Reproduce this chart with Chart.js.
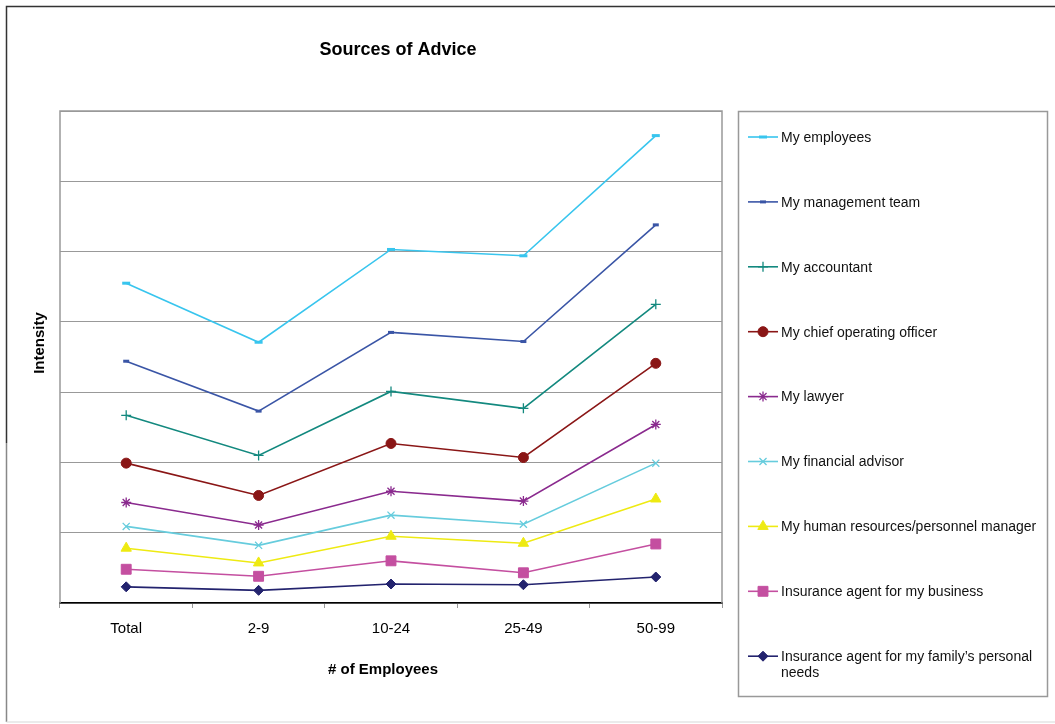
<!DOCTYPE html>
<html>
<head>
<meta charset="utf-8">
<title>Sources of Advice</title>
<script src="https://cdn.jsdelivr.net/npm/chart.js@4.4.1/dist/chart.umd.min.js"></script>
<style>
  html, body { margin: 0; padding: 0; background: #fff; }
  #wrap { width: 1055px; height: 724px; }
</style>
</head>
<body>
<div id="wrap"><canvas id="adviceChart" width="1055" height="724"></canvas></div>
<script>
const categories = ['Total', '2-9', '10-24', '25-49', '50-99'];

const seriesNames = [
    'My employees',
    'My management team',
    'My accountant',
    'My chief operating officer',
    'My lawyer',
    'My financial advisor',
    'My human resources/personnel manager',
    'Insurance agent for my business',
    'Insurance agent for my family\u2019s personal needs'
];

const myEmployees = [4.55, 3.71, 5.03, 4.94, 6.65];
const myManagementTeam = [3.44, 2.73, 3.85, 3.72, 5.38];
const myAccountant = [2.67, 2.10, 3.01, 2.77, 4.25];
const myCoo = [1.99, 1.53, 2.27, 2.07, 3.41];
const myLawyer = [1.43, 1.11, 1.59, 1.45, 2.54];
const myFinancialAdvisor = [1.09, 0.82, 1.25, 1.12, 1.99];
const myHrManager = [0.78, 0.57, 0.95, 0.85, 1.48];
const insuranceBusiness = [0.48, 0.38, 0.60, 0.43, 0.84];
const insuranceFamily = [0.23, 0.18, 0.27, 0.26, 0.37];

const seriesValues = [
    myEmployees, myManagementTeam, myAccountant, myCoo, myLawyer,
    myFinancialAdvisor, myHrManager, insuranceBusiness, insuranceFamily
];

// line colour, marker shape and marker size per series
const looks = [
    { color: '#38C5EE', style: 'line', radius: 4, bw: 3 },
    { color: '#3A55A6', style: 'line', radius: 3, bw: 3 },
    { color: '#13897F', style: 'cross', radius: 5, bw: 1.3 },
    { color: '#8A1616', style: 'circle', radius: 5, bw: 1 },
    { color: '#8A2A8E', style: 'star', radius: 5, bw: 1.3 },
    { color: '#66CCDD', style: 'crossRot', radius: 5, bw: 1.3 },
    { color: '#EEEA12', style: 'triangle', radius: 6, bw: 1 },
    { color: '#C44FA0', style: 'rect', radius: 7, bw: 1 },
    { color: '#23236E', style: 'rectRot', radius: 5, bw: 1 }
];

const FONT = 'Liberation Sans, Arial, sans-serif';

const datasets = seriesNames.map((name, i) => ({
    label: name,
    data: seriesValues[i],
    borderColor: looks[i].color,
    backgroundColor: looks[i].color,
    borderWidth: 1.6,
    pointStyle: looks[i].style,
    pointRadius: looks[i].radius,
    pointBorderWidth: looks[i].bw,
    pointBackgroundColor: looks[i].color,
    pointBorderColor: looks[i].color,
    tension: 0
}));

// frame, titles and the boxed legend
const decorations = {
    id: 'decorations',
    beforeDatasetsDraw(chart) {
        const ctx = chart.ctx;
        const a = chart.chartArea;
        ctx.save();
        ctx.strokeStyle = '#999';
        ctx.lineWidth = 1.5;
        ctx.beginPath();
        ctx.moveTo(a.left, a.bottom);
        ctx.lineTo(a.left, a.top);
        ctx.lineTo(a.right, a.top);
        ctx.lineTo(a.right, a.bottom);
        ctx.stroke();
        ctx.restore();
    },
    afterDraw(chart) {
        const ctx = chart.ctx;
        ctx.save();

        // outer border
        ctx.lineWidth = 1.5;
        ctx.strokeStyle = '#333';
        ctx.beginPath();
        ctx.moveTo(1055, 6.5);
        ctx.lineTo(6.5, 6.5);
        ctx.lineTo(6.5, 443);
        ctx.stroke();
        ctx.strokeStyle = '#888';
        ctx.beginPath();
        ctx.moveTo(6.5, 443);
        ctx.lineTo(6.5, 722);
        ctx.stroke();
        ctx.strokeStyle = '#e4e4e4';
        ctx.beginPath();
        ctx.moveTo(6.5, 722);
        ctx.lineTo(1055, 722);
        ctx.stroke();

        // titles
        ctx.fillStyle = '#000';
        ctx.textAlign = 'center';
        ctx.textBaseline = 'middle';
        ctx.font = 'bold 18px ' + FONT;
        ctx.fillText('Sources of Advice', 398, 50);
        ctx.font = 'bold 15px ' + FONT;
        ctx.fillText('# of Employees', 383, 670);
        ctx.save();
        ctx.translate(40, 343);
        ctx.rotate(-Math.PI / 2);
        ctx.fillText('Intensity', 0, 0);
        ctx.restore();

        // legend box
        ctx.strokeStyle = '#999';
        ctx.lineWidth = 1.5;
        ctx.strokeRect(738.5, 111.5, 309, 585);

        ctx.font = '14px ' + FONT;
        ctx.textAlign = 'left';
        chart.data.datasets.forEach((ds, i) => {
            const y = 137 + i * 64.9;
            ctx.strokeStyle = ds.borderColor;
            ctx.fillStyle = ds.borderColor;
            ctx.lineWidth = 1.6;
            ctx.beginPath();
            ctx.moveTo(748, y);
            ctx.lineTo(778, y);
            ctx.stroke();
            ctx.lineWidth = ds.pointBorderWidth;
            Chart.helpers.drawPoint(ctx, {
                pointStyle: ds.pointStyle,
                radius: ds.pointRadius,
                rotation: 0,
                borderWidth: ds.pointBorderWidth
            }, 763, y);

            // wrap long names inside the box
            ctx.fillStyle = '#111';
            const words = ds.label.split(' ');
            const lines = [];
            let cur = '';
            words.forEach(w => {
                const test = cur ? cur + ' ' + w : w;
                if (ctx.measureText(test).width > 265 && cur) {
                    lines.push(cur);
                    cur = w;
                } else {
                    cur = test;
                }
            });
            lines.push(cur);
            lines.forEach((ln, k) => ctx.fillText(ln, 781, y + 1 + k * 16));
        });
        ctx.restore();
    }
};

const ctx = document.getElementById('adviceChart').getContext('2d');
const adviceChart = new Chart(ctx, {
    type: 'line',
    data: {
        labels: categories,
        datasets: datasets
    },
    options: {
        responsive: false,
        animation: false,
        layout: {
            padding: { left: 60, right: 333, top: 111, bottom: 0 }
        },
        plugins: {
            legend: { display: false },
            title: { display: false },
            tooltip: { enabled: false }
        },
        scales: {
            x: {
                offset: true,
                grid: {
                    offset: true,
                    drawOnChartArea: false,
                    drawTicks: true,
                    tickLength: 5,
                    color: '#999'
                },
                border: { color: '#000', width: 1.5 },
                ticks: {
                    color: '#000',
                    font: { family: FONT, size: 15 },
                    padding: 12,
                    maxRotation: 0
                },
                afterFit(scale) { scale.height = 121; }
            },
            y: {
                min: 0,
                max: 7,
                ticks: { display: false, stepSize: 1 },
                grid: { color: '#999', lineWidth: 1, drawTicks: false },
                border: { display: false },
                afterFit(scale) { scale.width = 0; }
            }
        }
    },
    plugins: [decorations]
});
</script>
</body>
</html>
